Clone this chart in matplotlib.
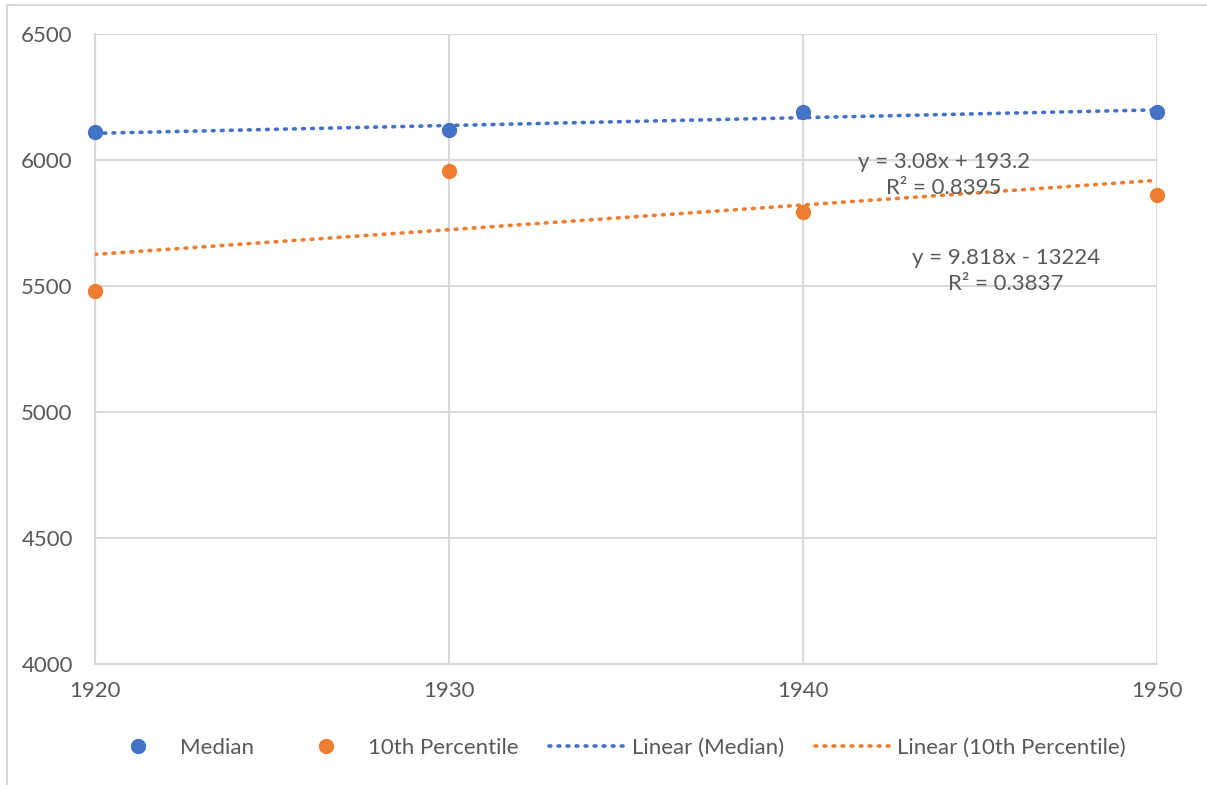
import matplotlib.pyplot as plt
import numpy as np

plt.rcParams['font.family'] = ['Lato', 'DejaVu Sans']

years = [1920, 1930, 1940, 1950]
median = [6110, 6120, 6190, 6190]
pct10 = [5480, 5955, 5795, 5860]

eq_median = "y = 3.08x + 193.2\nR² = 0.8395"
eq_pct10 = "y = 9.818x - 13224\nR² = 0.3837"

blue = '#4472C4'
orange = '#ED7D31'
grid = '#D9D9D9'
txt = '#595959'
fs = 16

fig = plt.figure(figsize=(12.07, 7.85), dpi=100)
ax = fig.add_axes([0.0787, 0.1541, 0.8799, 0.8026])

# linear trend lines from the data
xs = np.array(years, dtype=float)
fit_m = np.polyfit(xs, median, 1)
fit_p = np.polyfit(xs, pct10, 1)
xl = np.array([1920, 1950], dtype=float)

ax.plot(years, median, 'o', color=blue, markersize=10, clip_on=False, zorder=4, label='Median')
ax.plot(years, pct10, 'o', color=orange, markersize=10, clip_on=False, zorder=4, label='10th Percentile')
ax.plot(xl, np.polyval(fit_m, xl), color=blue, linestyle=(0, (0.5, 2)), linewidth=2.6,
        dash_capstyle='round', zorder=3, label='Linear (Median)')
ax.plot(xl, np.polyval(fit_p, xl), color=orange, linestyle=(0, (0.5, 2)), linewidth=2.6,
        dash_capstyle='round', zorder=3, label='Linear (10th Percentile)')

ax.set_xlim(1920, 1950)
ax.set_ylim(4000, 6500)
ax.set_xticks(years)
ax.set_yticks(np.arange(4000, 6501, 500))
ax.grid(True, color=grid, linewidth=1.5)
ax.set_axisbelow(True)
for s in ['top', 'right']:
    ax.spines[s].set_visible(False)
for s in ['left', 'bottom']:
    ax.spines[s].set_color(grid)
    ax.spines[s].set_linewidth(1.5)
ax.tick_params(length=0, labelsize=fs, colors=txt)
ax.tick_params(axis='y', pad=16)
ax.tick_params(axis='x', pad=12)

ax.text(1943.98, 5940, eq_median, ha='center', va='center', fontsize=fs,
        color=txt, linespacing=1.4, zorder=5)
ax.text(1945.73, 5560, eq_pct10, ha='center', va='center', fontsize=fs,
        color=txt, linespacing=1.4, zorder=5)

leg = fig.legend(loc='center', bbox_to_anchor=(0.507, 0.047), ncol=4, frameon=False,
                 fontsize=fs, handlelength=3.6, columnspacing=1.4, handletextpad=0.1)
for t in leg.get_texts():
    t.set_color(txt)

# outer chart border
fig.patches.append(plt.Rectangle((0.006, -0.01), 1.0, 1.004, transform=fig.transFigure,
                                 fill=False, edgecolor=grid, linewidth=1.5))

fig.savefig('out.png', dpi=100)
